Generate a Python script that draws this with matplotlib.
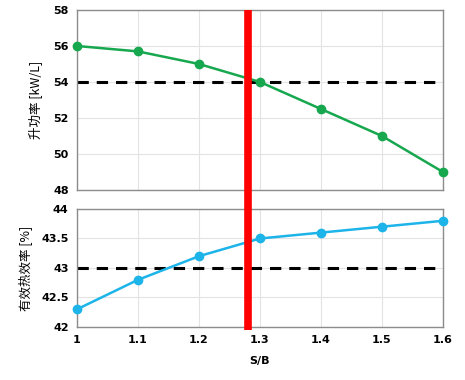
import matplotlib
matplotlib.use('Agg')
import matplotlib.pyplot as plt
import matplotlib.transforms as mtransforms
from matplotlib.lines import Line2D

plt.rcParams['font.family'] = ['DejaVu Sans', 'Noto Sans CJK SC']

sb = [1.0, 1.1, 1.2, 1.3, 1.4, 1.5, 1.6]
power = [56.0, 55.7, 55.0, 54.0, 52.5, 51.0, 49.0]
eff = [42.3, 42.8, 43.2, 43.5, 43.6, 43.7, 43.8]
power_target = 54
eff_target = 43
sb_select = 1.28

green = '#17a84f'
blue = '#1db4ea'
grid_c = '#e3e3e3'
spine_c = '#8c8c8c'

fig = plt.figure(figsize=(4.65, 3.8), dpi=100)
ax1 = fig.add_axes([0.1656, 0.5, 0.787, 0.4737])
ax2 = fig.add_axes([0.1656, 0.1395, 0.787, 0.3105])

for ax in (ax1, ax2):
    ax.set_xlim(1.0, 1.6)
    ax.set_xticks(sb)
    ax.grid(True, color=grid_c, linewidth=0.8)
    ax.set_axisbelow(True)
    ax.tick_params(length=0, labelsize=8, pad=6)
    for s in ax.spines.values():
        s.set_color(spine_c)
        s.set_linewidth(1.0)

ax1.plot(sb, power, color=green, linewidth=1.8, marker='o', markersize=6, clip_on=False, zorder=3)
ax1.axhline(power_target, color='black', linewidth=2.2, dashes=(3.7, 2.6), xmax=0.985, zorder=2)
ax1.set_ylim(48, 58)
ax1.set_yticks([48, 50, 52, 54, 56, 58])
ax1.set_yticklabels(['48', '50', '52', '54', '56', '58'], fontweight='bold')
ax1.set_xticklabels([])
ax1.set_ylabel('升功率 [kW/L]', fontsize=9, fontweight='medium',
               family=['Noto Sans CJK SC', 'DejaVu Sans'], labelpad=8)

ax2.plot(sb, eff, color=blue, linewidth=1.8, marker='o', markersize=6, clip_on=False, zorder=3)
ax2.axhline(eff_target, color='black', linewidth=2.2, dashes=(3.7, 2.6), xmax=0.985, zorder=2)
ax2.set_ylim(42, 44)
ax2.set_yticks([42, 42.5, 43, 43.5, 44])
ax2.set_yticklabels(['42', '42.5', '43', '43.5', '44'], fontweight='bold')
ax2.set_xticklabels(['1', '1.1', '1.2', '1.3', '1.4', '1.5', '1.6'], fontweight='bold')
ax2.set_ylabel('有效热效率 [%]', fontsize=9, fontweight='medium',
               family=['Noto Sans CJK SC', 'DejaVu Sans'], labelpad=6)
ax2.set_xlabel('S/B', fontsize=8, fontweight='bold')
ax2.xaxis.set_label_coords(0.5, -0.25)

# red selection line across both panels
trans = mtransforms.blended_transform_factory(ax2.transData, fig.transFigure)
fig.add_artist(Line2D([sb_select, sb_select], [0.132, 0.9737], transform=trans,
                      color='#ff0000', linewidth=5.5, solid_capstyle='butt', zorder=5))

fig.savefig('out.png', dpi=100, facecolor='white')
